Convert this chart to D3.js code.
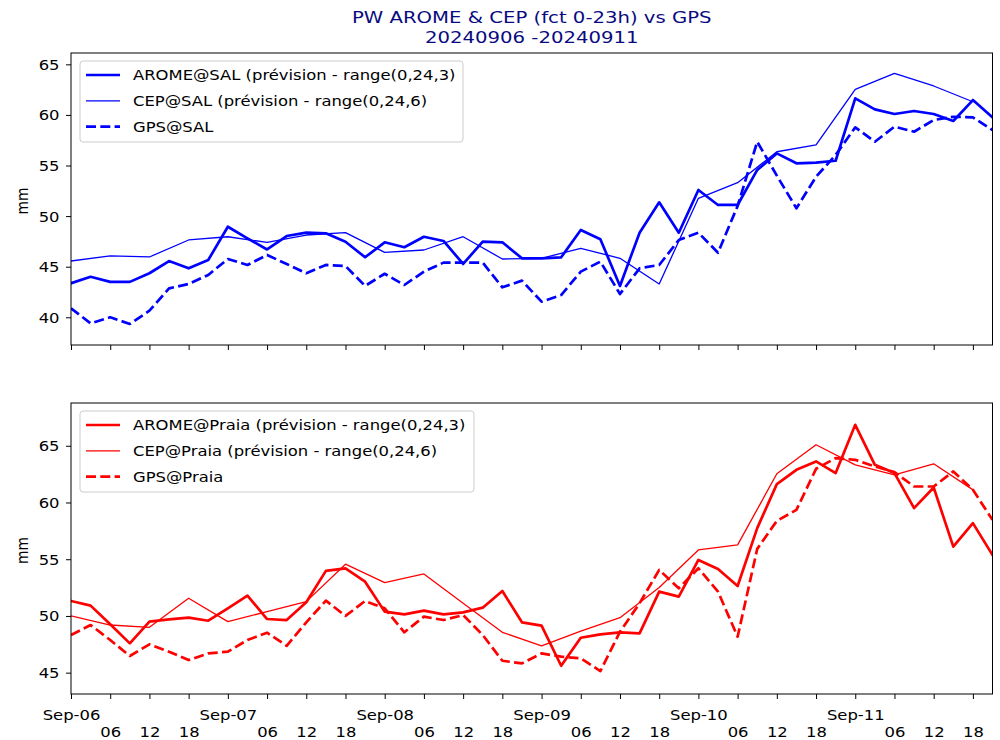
<!DOCTYPE html>
<html><head><meta charset="utf-8">
<script src="https://cdn.jsdelivr.net/npm/d3@7"></script>
<style>body{margin:0;background:#fff}svg{display:block}text{font-family:"DejaVu Sans",sans-serif}</style>
</head><body>
<svg id="chart" width="1000" height="740"></svg>
<script>
// ---- data (3-hourly from 2024-09-06 00 UTC; CEP 6-hourly) ----
const titleLines = ["PW AROME & CEP (fct 0-23h) vs GPS", "20240906 -20240911"];
const dayLabels = ["Sep-06","Sep-07","Sep-08","Sep-09","Sep-10","Sep-11"];
const hourLabels = ["06","12","18"];
const yTicksSal = [40,45,50,55,60,65];
const yTicksPraia = [45,50,55,60,65];
const yLabel = "mm";

const salArome = [43.36,44.0,43.5,43.5,44.35,45.56,44.84,45.66,48.95,47.8,46.7,48.03,48.36,48.3,47.47,45.93,
  47.41,46.92,47.96,47.54,45.27,47.47,47.41,45.83,45.83,45.93,48.63,47.71,43.1,48.36,51.36,48.36,
  52.58,51.1,51.1,54.56,56.2,55.22,55.28,55.47,61.64,60.55,60.09,60.39,60.09,59.4,61.47,59.76];
const salCep = [45.56,46.06,45.96,47.64,47.96,47.4,48.13,48.36,46.42,46.65,47.96,45.76,
  45.83,46.82,45.83,43.29,51.76,53.3,56.36,57.03,62.53,64.11,62.86,61.3];
const salGps = [40.89,39.4,40.0,39.34,40.65,42.86,43.29,44.18,45.76,45.17,46.16,45.27,44.35,45.17,45.07,43.1,
  44.3,43.19,44.51,45.4,45.4,45.4,42.96,43.62,41.54,42.2,44.51,45.5,42.3,44.84,45.17,47.64,
  48.36,46.38,51.0,57.35,54.0,50.77,53.89,56.04,58.77,57.35,58.84,58.34,59.5,59.82,59.76,58.51];

const praiaArome = [51.32,50.91,49.26,47.58,49.5,49.7,49.85,49.58,50.67,51.79,49.73,49.64,51.2,53.97,54.2,53.02,
  50.38,50.14,50.47,50.14,50.32,50.73,52.2,49.44,49.14,45.61,48.08,48.38,48.56,48.47,52.14,51.7,
  54.94,54.14,52.64,57.74,61.62,62.88,63.62,62.59,66.85,63.32,62.59,59.5,61.32,56.11,58.18,55.38];
const praiaCep = [50.0,49.2,49.0,51.56,49.5,50.38,51.26,54.56,52.94,53.7,51.12,48.56,
  47.37,48.67,49.85,52.5,55.82,56.26,62.53,65.09,63.32,62.44,63.41,61.12];
const praiaGps = [48.32,49.2,47.88,46.47,47.5,46.85,46.11,46.7,46.85,47.88,48.52,47.37,49.44,51.35,50.0,51.32,
  50.67,48.56,49.94,49.64,50.08,48.32,46.05,45.82,46.7,46.41,46.26,45.14,48.61,51.12,54.06,52.44,
  54.2,52.14,48.17,55.91,58.38,59.35,62.97,63.91,63.76,63.18,62.68,61.41,61.41,62.74,61.12,58.47];

const salNames = ["AROME@SAL (prévision - range(0,24,3)", "CEP@SAL (prévision - range(0,24,6)", "GPS@SAL"];
const praiaNames = ["AROME@Praia (prévision - range(0,24,3)", "CEP@Praia (prévision - range(0,24,6)", "GPS@Praia"];

// ---- layout ----
const SX = 1.18;           // horizontal text stretch of the reference
const FS = 13.9;
const left = 71, right = 992.5;
const t0 = Date.UTC(2024,8,6,0);
const H3 = 3*3600e3;
const svg = d3.select("#chart");

const x = d3.scaleUtc().domain([new Date(t0), new Date(t0 + 47*H3)]).range([left, right]);
const tickTimes = d3.range(0, 24).map(i => new Date(t0 + i*2*H3));

const panels = [
  {top:53, bottom:345, domain:[37.26,66.12], ticks:yTicksSal, color:"#0000ff",
   series:[salArome, salCep, salGps], names:salNames, labels:false, legend:{x:80,y:61,w:383,h:81}},
  {top:403, bottom:694, domain:[43.12,68.77], ticks:yTicksPraia, color:"#ff0000",
   series:[praiaArome, praiaCep, praiaGps], names:praiaNames, labels:true, legend:{x:80,y:411,w:394,h:81}}
];
const styles = [
  {w:2.7, dash:null, step:1},
  {w:1.3, dash:null, step:2},
  {w:2.7, dash:"10,4.3", step:1}
];

// title
titleLines.forEach((t,i)=>{
  svg.append("text").attr("transform",`translate(${(left+right)/2},${23+i*20}) scale(${SX},1)`)
    .attr("text-anchor","middle").attr("font-size",16.67).attr("fill","#0a0a80").text(t);
});

panels.forEach((p,pi)=>{
  const y = d3.scaleLinear().domain(p.domain).range([p.bottom, p.top]);
  const g = svg.append("g");
  const clipId = "clip"+pi;
  svg.append("clipPath").attr("id",clipId).append("rect")
    .attr("x",left).attr("y",p.top).attr("width",right-left).attr("height",p.bottom-p.top);

  // lines
  p.series.forEach((vals,si)=>{
    const st = styles[si];
    const line = d3.line().x((d,i)=>x(new Date(t0 + i*st.step*H3))).y(d=>y(d));
    g.append("path").attr("clip-path",`url(#${clipId})`).attr("d",line(vals))
      .attr("fill","none").attr("stroke",p.color).attr("stroke-width",st.w)
      .attr("stroke-linejoin","round").attr("stroke-linecap",st.dash?"butt":"square")
      .attr("stroke-dasharray",st.dash);
  });

  // y axis
  const ya = g.append("g").attr("transform",`translate(${left},0)`)
    .call(d3.axisLeft(y).tickValues(p.ticks).tickSize(5).tickPadding(5).tickFormat(d3.format("d")));
  ya.select(".domain").remove();
  ya.selectAll("line").attr("stroke","#000").attr("stroke-width",1);
  ya.selectAll("text").attr("font-size",FS).attr("font-family","DejaVu Sans").attr("fill","#000")
    .attr("x",-11.5/SX).attr("dy","0.36em").attr("transform",`scale(${SX},1)`);

  // x axis
  const xa = g.append("g").attr("transform",`translate(0,${p.bottom})`)
    .call(d3.axisBottom(x).tickValues(tickTimes).tickSize(5)
      .tickFormat(d => {
        if (!p.labels) return "";
        const h = d.getUTCHours();
        return h === 0 ? dayLabels[Math.round((d - t0)/86400e3)] : hourLabels[h/6 - 1];
      }));
  xa.select(".domain").remove();
  xa.selectAll("line").attr("stroke","#000").attr("stroke-width",1);
  xa.selectAll("text").attr("font-size",FS).attr("font-family","DejaVu Sans").attr("fill","#000")
    .attr("dy",null)
    .attr("y", d => d.getUTCHours() === 0 ? 26 : 43)
    .attr("transform",`scale(${SX},1)`);

  // frame
  g.append("rect").attr("x",left).attr("y",p.top).attr("width",right-left).attr("height",p.bottom-p.top)
    .attr("fill","none").attr("stroke","#000").attr("stroke-width",1);

  // y label
  g.append("text").attr("transform",`translate(28,${(p.top+p.bottom)/2 + 2}) rotate(-90) scale(1,${SX})`)
    .attr("text-anchor","middle").attr("font-size",FS).text(yLabel);

  // legend
  const L = p.legend;
  const lg = g.append("g");
  lg.append("rect").attr("x",L.x).attr("y",L.y).attr("width",L.w).attr("height",L.h).attr("rx",3)
    .attr("fill","#fff").attr("fill-opacity",0.8).attr("stroke","#cccccc").attr("stroke-width",1);
  p.names.forEach((n,i)=>{
    const cy = L.y + 14 + i*25.8;
    const st = styles[i];
    lg.append("line").attr("x1",86).attr("x2",120).attr("y1",cy).attr("y2",cy)
      .attr("stroke",p.color).attr("stroke-width",st.w).attr("stroke-dasharray",st.dash);
    lg.append("text").attr("transform",`translate(133,${cy+5}) scale(${SX},1)`)
      .attr("font-size",FS).attr("fill","#000").text(n);
  });
});
</script>
</body></html>
